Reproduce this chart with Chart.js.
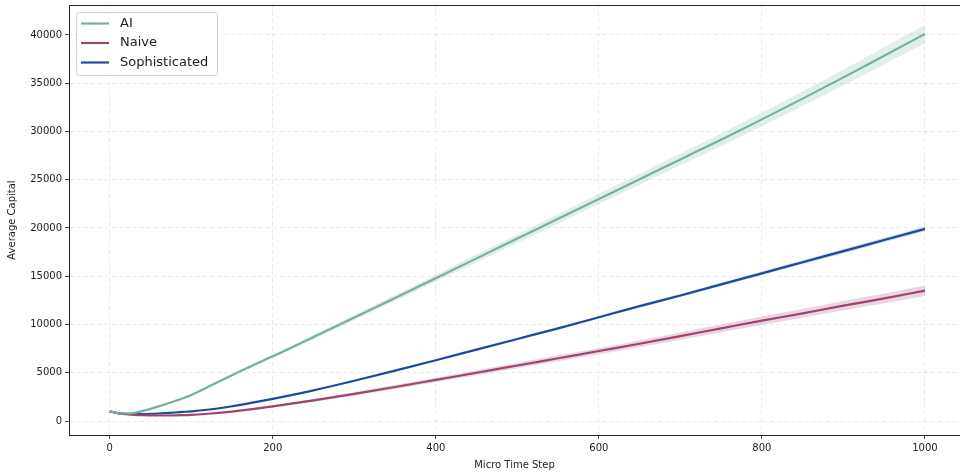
<!DOCTYPE html>
<html>
<head>
<meta charset="utf-8">
<script src="https://cdn.jsdelivr.net/npm/chart.js@4/dist/chart.umd.min.js"></script>
<style>
  html, body { margin: 0; padding: 0; background: #fff; }
  #wrap { width: 960px; height: 475px; position: relative; }
</style>
</head>
<body>
<div id="wrap"><canvas id="chart"></canvas></div>
<script>
const steps = [0, 10, 20, 30, 40, 50, 60, 70, 80, 90, 100, 125, 150, 175,
  200, 250, 300, 350, 400, 450, 500, 550, 600, 650, 700, 750, 800, 850, 900, 950, 1000];

const aiMean = [1000, 820, 780, 850, 1020, 1260, 1520, 1790, 2070, 2350, 2700, 3720, 4750, 5760,
  6700, 8700, 10720, 12750, 14800, 16850, 18900, 20950, 23000, 25050, 27100, 29150, 31250, 33400, 35600, 37850, 40100];
const aiSpread = [0, 15, 25, 35, 45, 55, 65, 75, 85, 95, 100, 120, 140, 160,
  180, 220, 260, 300, 345, 390, 435, 480, 525, 570, 615, 660, 710, 760, 810, 880, 950];

const naiveMean = [1000, 800, 700, 640, 600, 580, 570, 570, 580, 600, 640, 780, 980, 1230,
  1520, 2140, 2810, 3520, 4260, 5000, 5750, 6500, 7250, 8000, 8800, 9600, 10400, 11150, 11950, 12700, 13500];
const naiveSpread = [0, 10, 20, 25, 30, 35, 40, 45, 50, 55, 60, 70, 80, 95,
  110, 140, 170, 200, 225, 250, 275, 300, 325, 350, 375, 400, 425, 450, 480, 510, 550];

const sophMean = [1000, 820, 740, 720, 720, 740, 780, 830, 880, 940, 1000, 1220, 1530, 1900,
  2300, 3180, 4170, 5220, 6300, 7400, 8500, 9600, 10750, 11900, 13000, 14150, 15300, 16450, 17600, 18750, 19900];
const sophSpread = [0, 8, 12, 15, 18, 20, 22, 24, 26, 28, 30, 35, 40, 45,
  50, 60, 70, 80, 90, 100, 110, 120, 130, 140, 150, 165, 180, 195, 210, 230, 250];

const xTicks = [0, 200, 400, 600, 800, 1000];
const yTicks = [0, 5000, 10000, 15000, 20000, 25000, 30000, 35000, 40000];

const series = [
  { label: "AI", mean: aiMean, spread: aiSpread, color: "#76b0a0", band: "rgba(118,176,160,0.22)" },
  { label: "Naive", mean: naiveMean, spread: naiveSpread, color: "#9e4570", band: "rgba(158,69,112,0.22)" },
  { label: "Sophisticated", mean: sophMean, spread: sophSpread, color: "#1f4aa0", band: "rgba(31,74,160,0.22)" },
];

const FONT = "'DejaVu Sans', sans-serif";

function toPoints(values) {
  return steps.map((s, i) => ({ x: s, y: values[i] }));
}

const datasets = [];
series.forEach((s) => {
  datasets.push({
    label: s.label + "_lo",
    data: toPoints(s.mean.map((v, i) => v - s.spread[i])),
    borderWidth: 0,
    pointRadius: 0,
    fill: false,
    cubicInterpolationMode: "monotone",
    isBand: true,
  });
  datasets.push({
    label: s.label + "_hi",
    data: toPoints(s.mean.map((v, i) => v + s.spread[i])),
    borderWidth: 0,
    pointRadius: 0,
    backgroundColor: s.band,
    fill: "-1",
    cubicInterpolationMode: "monotone",
    isBand: true,
  });
});
series.forEach((s) => {
  datasets.push({
    label: s.label,
    data: toPoints(s.mean),
    borderColor: s.color,
    borderWidth: 2.2,
    pointRadius: 0,
    fill: false,
    cubicInterpolationMode: "monotone",
  });
});

// frame + legend drawn inside the plot area
const framePlugin = {
  id: "frame",
  afterDraw(chart) {
    const { ctx, chartArea: a } = chart;
    ctx.save();
    ctx.strokeStyle = "#222";
    ctx.lineWidth = 1;
    ctx.strokeRect(a.left + 0.5, a.top + 0.5, a.right - a.left + 2, a.bottom - a.top);

    const lines = chart.data.datasets.filter((d) => !d.isBand);
    const bx = a.left + 7, by = a.top + 7, bw = 141, bh = 63;
    ctx.fillStyle = "rgba(255,255,255,0.85)";
    ctx.strokeStyle = "#d0d0d0";
    ctx.beginPath();
    ctx.roundRect(bx + 0.5, by + 0.5, bw, bh, 3);
    ctx.fill();
    ctx.stroke();
    ctx.font = "13px " + FONT;
    ctx.textBaseline = "middle";
    lines.forEach((d, i) => {
      const y = by + 11.5 + i * 19.5;
      ctx.strokeStyle = d.borderColor;
      ctx.lineWidth = 2.2;
      ctx.beginPath();
      ctx.moveTo(bx + 5, y);
      ctx.lineTo(bx + 33, y);
      ctx.stroke();
      ctx.fillStyle = "#222";
      ctx.fillText(d.label, bx + 44, y);
    });
    ctx.restore();
  },
};

new Chart(document.getElementById("chart"), {
  type: "line",
  data: { datasets },
  options: {
    responsive: true,
    maintainAspectRatio: false,
    animation: false,
    layout: { padding: { top: 5, right: 0, left: 0, bottom: 0 } },
    plugins: {
      legend: { display: false },
      tooltip: { enabled: false },
    },
    scales: {
      x: {
        type: "linear",
        min: -50,
        max: 1043,
        afterBuildTicks: (scale) => { scale.ticks = xTicks.map((v) => ({ value: v })); },
        afterFit: (scale) => {
          scale.height = 40;
          scale.paddingLeft = 0;
          scale.paddingRight = 0;
        },
        title: { display: true, text: "Micro Time Step", color: "#222", font: { family: FONT, size: 10 }, padding: { top: 2 } },
        ticks: { color: "#222", font: { family: FONT, size: 10 }, maxRotation: 0, padding: 3, callback: (v) => String(v) },
        grid: { color: "rgba(0,0,0,0.10)", tickColor: "#222", tickLength: 4, lineWidth: 0.8 },
        border: { display: true, color: "#222", dash: [4, 3] },
      },
      y: {
        type: "linear",
        min: -1450,
        max: 43100,
        afterBuildTicks: (scale) => { scale.ticks = yTicks.map((v) => ({ value: v })); },
        afterFit: (scale) => {
          scale.width = 69;
          scale.paddingTop = 0;
          scale.paddingBottom = 0;
        },
        title: { display: true, text: "Average Capital", color: "#222", font: { family: FONT, size: 10 }, padding: { top: 6, bottom: 2 } },
        ticks: { color: "#222", font: { family: FONT, size: 10 }, padding: 3, callback: (v) => String(v) },
        grid: { color: "rgba(0,0,0,0.10)", tickColor: "#222", tickLength: 4, lineWidth: 0.8 },
        border: { display: true, color: "#222", dash: [4, 3] },
      },
    },
  },
  plugins: [framePlugin],
});
</script>
</body>
</html>
